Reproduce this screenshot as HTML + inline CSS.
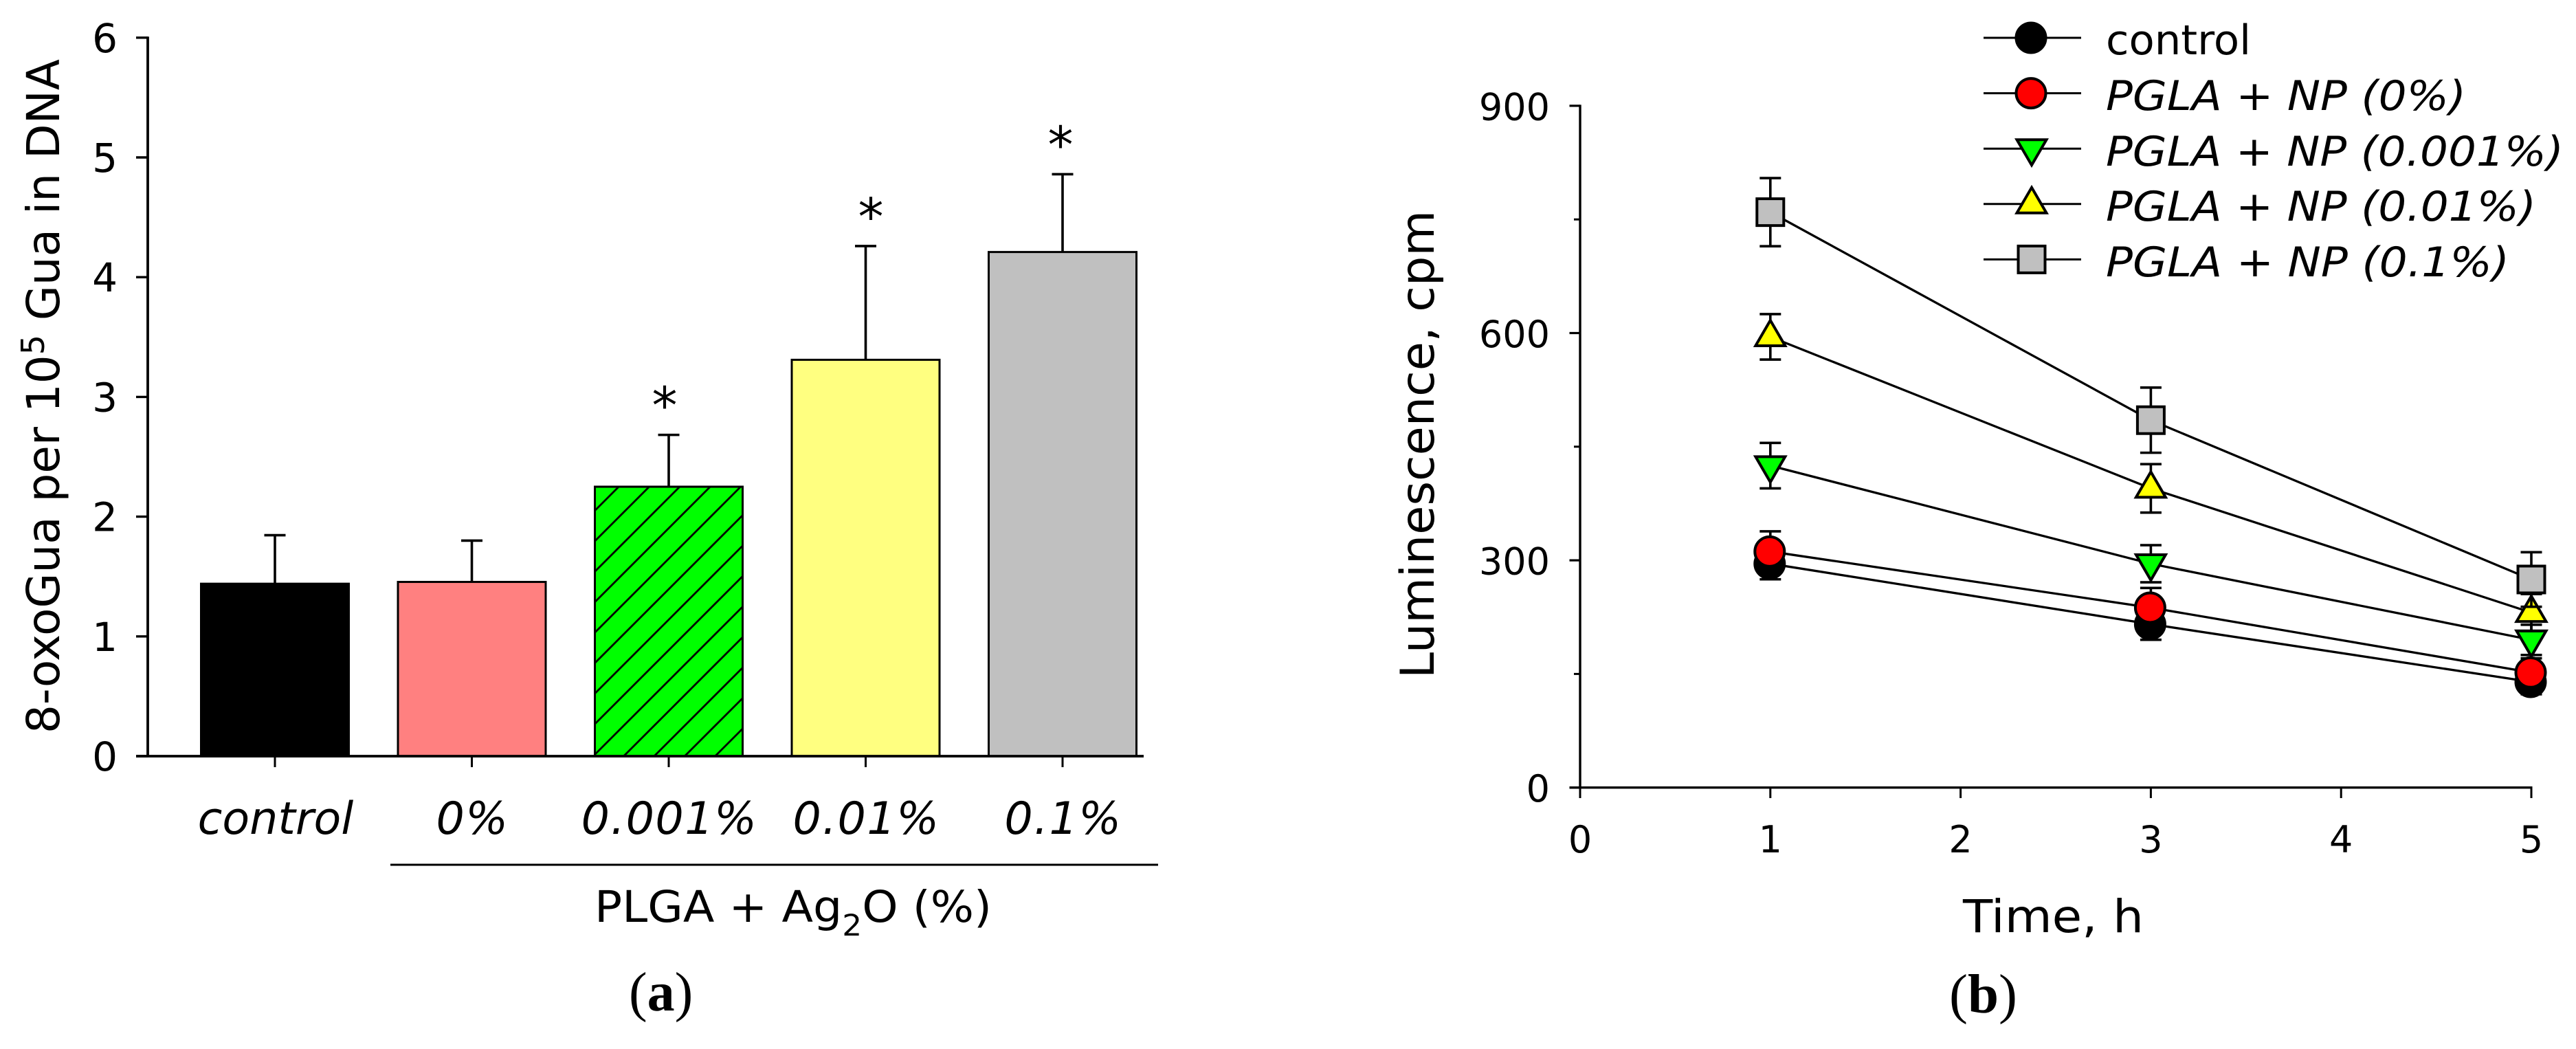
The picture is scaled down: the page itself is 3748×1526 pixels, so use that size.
<!DOCTYPE html>
<html lang="en">
<head>
<meta charset="utf-8">
<title>8-oxoGua bar chart and luminescence line chart</title>
<style>
html,body{margin:0;padding:0;background:#fff;}
svg{display:block;}
text{font-family:"DejaVu Sans","Liberation Sans",sans-serif;fill:#000;}
.serif{font-family:"Liberation Serif",serif;}
</style>
</head>
<body>
<svg id="fig" xmlns="http://www.w3.org/2000/svg" width="3748" height="1526" viewBox="0 0 3748 1526">
  <defs>
    <pattern id="hatch" patternUnits="userSpaceOnUse" x="11.7" y="0" width="44.35" height="44.35">
      <path d="M-3,3 L3,-3 M0,44.35 L44.35,0 M41.35,47.35 L47.35,41.35" stroke="#000" stroke-width="2.8" fill="none"/>
    </pattern>
  </defs>
  <rect x="0" y="0" width="3748" height="1526" fill="#fff"/>
  <g id="chart-a"></g>
  <g id="chart-b"></g>

  <text x="86" y="1067" transform="rotate(-90 86 1067)" font-size="66" textLength="981" lengthAdjust="spacingAndGlyphs">8-oxoGua per 10<tspan font-size="46" dy="-22">5</tspan><tspan dy="22"> Gua in DNA</tspan></text>
  <line x1="568" y1="1258" x2="1685" y2="1258" stroke="#000" stroke-width="3"/>
  <text x="865" y="1341" font-size="63" textLength="578" lengthAdjust="spacingAndGlyphs">PLGA + Ag<tspan font-size="43" dy="20">2</tspan><tspan dy="-20">O (%)</tspan></text>
  <text class="serif" x="915" y="1470" font-size="80">(<tspan font-weight="bold">a</tspan>)</text>

  <text x="2086" y="987" transform="rotate(-90 2086 987)" font-size="68" textLength="681" lengthAdjust="spacingAndGlyphs">Luminescence, cpm</text>
  <text x="2856" y="1356" font-size="66" textLength="263" lengthAdjust="spacingAndGlyphs">Time, h</text>
  <text class="serif" x="2836" y="1473" font-size="81">(<tspan font-weight="bold">b</tspan>)</text>

  <g>
    <text x="3064" y="79" font-size="60" textLength="211" lengthAdjust="spacingAndGlyphs">control</text>
    <text x="3064" y="160" font-size="60" font-style="italic" textLength="524" lengthAdjust="spacingAndGlyphs">PGLA + NP (0%)</text>
    <text x="3064" y="241" font-size="60" font-style="italic" textLength="666" lengthAdjust="spacingAndGlyphs">PGLA + NP (0.001%)</text>
    <text x="3064" y="321" font-size="60" font-style="italic" textLength="626" lengthAdjust="spacingAndGlyphs">PGLA + NP (0.01%)</text>
    <text x="3064" y="402" font-size="60" font-style="italic" textLength="587" lengthAdjust="spacingAndGlyphs">PGLA + NP (0.1%)</text>
  </g>
</svg>

<script>
// ---- Panel (a) data ----
const barCategories = ['control', '0%', '0.001%', '0.01%', '0.1%'];
const barValues = [1.44, 1.455, 2.25, 3.31, 4.21];
const barErrors = [0.405, 0.345, 0.433, 0.95, 0.65];
const barSignificant = [false, false, true, true, true];
const barHatched = [false, false, true, false, false];
const barFills = ['#000000', '#ff8080', '#00ff00', '#ffff80', '#c0c0c0'];
const barYTicks = [0, 1, 2, 3, 4, 5, 6];

// ---- Panel (b) data ----
const timePoints = [1, 3, 5];
const seriesNames = ['control', 'np-0', 'np-0-001', 'np-0-01', 'np-0-1'];
const controlValues = [295.5, 215.7, 139.5];
const np0Values = [311.6, 237.5, 151.9];
const np0001Values = [425, 295.5, 195];
const np001Values = [595, 395, 231];
const np01Values = [759.6, 485, 274.7];
const controlErrors = [20.6, 20.6, 16.3];
const np0Errors = [26.7, 26, 18.7];
const np0001Errors = [30, 24.5, 20];
const np001Errors = [30, 32, 24.5];
const np01Errors = [45, 43, 36];
const lineYTicks = [0, 300, 600, 900];
const lineYMinorTicks = [150, 450, 750];
const lineXTicks = [0, 1, 2, 3, 4, 5];

const seriesValues = [controlValues, np0Values, np0001Values, np001Values, np01Values];
const seriesErrors = [controlErrors, np0Errors, np0001Errors, np001Errors, np01Errors];
const seriesColors = ['#000000', '#ff0000', '#00ff00', '#ffff00', '#c0c0c0'];
const seriesShapes = ['circle', 'circle', 'down', 'up', 'square'];

const NS = 'http://www.w3.org/2000/svg';
function mk(tag, attrs, parent) {
  const n = document.createElementNS(NS, tag);
  for (const k in attrs) n.setAttribute(k, attrs[k]);
  parent.appendChild(n);
  return n;
}

// ---- Axis functions ----
const yA = v => 1100 - v * 174.2;
const xA = i => 400 + i * 286.5;
const xB = t => 2299 + t * 276.8;
const yB = v => 1145.7 - v * 1.102;

const chartA = document.getElementById('chart-a');
const chartB = document.getElementById('chart-b');

// Small hand-placement nudge of the asterisks relative to their bars
function starNudge(i) {
  if (i === 2) return -6;
  if (i === 3) return 7.5;
  return -3;
}

// ---- Panel (a) drawing ----
barCategories.forEach((cat, i) => {
  const cx = xA(i), top = yA(barValues[i]), errTop = yA(barValues[i] + barErrors[i]);
  const bar = mk('rect', {
    x: cx - 107.5, y: top, width: 215, height: 1100 - top,
    fill: barFills[i], stroke: '#000', 'stroke-width': 3
  }, chartA);
  
  
  if (barHatched[i]) {
    const hatch = mk('rect', {
      x: cx - 107.5, y: top, width: 215, height: 1100 - top,
      fill: 'url(#hatch)', stroke: '#000', 'stroke-width': 3
    }, chartA);
    
    
  }
  const err = mk('path', {
    d: `M${cx},${top} V${errTop} M${cx - 15.5},${errTop} H${cx + 15.5}`,
    stroke: '#000', 'stroke-width': 3.6, fill: 'none'
  }, chartA);
  
  
  const tick = mk('line', { x1: cx, y1: 1100, x2: cx, y2: 1116, stroke: '#000', 'stroke-width': 3 }, chartA);
  
  
  const lab = mk('text', { x: cx + 1, y: 1213, 'font-size': 65, 'font-style': 'italic', 'text-anchor': 'middle' }, chartA);
  if (cat !== 'control') lab.setAttribute('letter-spacing', '1.5');
  lab.textContent = cat;
  
  
  if (barSignificant[i]) {
    const star = mk('text', { x: cx + starNudge(i), y: errTop - 17, 'font-size': 74, 'text-anchor': 'middle' }, chartA);
    star.textContent = '*';
    
    
  }
});

const axisAY = mk('line', { x1: 215, y1: yA(6) - 1.5, x2: 215, y2: yA(0), stroke: '#000', 'stroke-width': 3.8 }, chartA);


const axisAX = mk('line', { x1: 198, y1: yA(0), x2: 1664, y2: yA(0), stroke: '#000', 'stroke-width': 3.8 }, chartA);


barYTicks.forEach(v => {
  const t = mk('line', { x1: 198, y1: yA(v), x2: 215, y2: yA(v), stroke: '#000', 'stroke-width': 3.4 }, chartA);
  
  
  const l = mk('text', { x: 171, y: yA(v) + 21, 'font-size': 58, 'text-anchor': 'end' }, chartA);
  l.textContent = v;
  
  
});

// ---- Marker ----
function marker(shape, x, y, fill, parent) {
  const style = { fill: fill, stroke: '#000', 'stroke-width': 4, 'stroke-linejoin': 'miter' };
  if (shape === 'circle') return mk('circle', Object.assign({ cx: x - 1, cy: y, r: 21.5 }, style), parent);
  if (shape === 'square') return mk('rect', Object.assign({ x: x - 19.5, y: y - 19.5, width: 39, height: 39 }, style), parent);
  if (shape === 'up') return mk('path', Object.assign({ d: `M${x},${y - 24} L${x + 21.5},${y + 13} H${x - 21.5} Z` }, style), parent);
  return mk('path', Object.assign({ d: `M${x - 21.5},${y - 13} H${x + 21.5} L${x},${y + 24} Z` }, style), parent);
}

// ---- Panel (b) axes ----
const axisBY = mk('line', { x1: xB(0), y1: yB(900) - 1.5, x2: xB(0), y2: yB(0), stroke: '#000', 'stroke-width': 3.4 }, chartB);


const axisBX = mk('line', { x1: 2283.5, y1: yB(0), x2: xB(5) + 1.5, y2: yB(0), stroke: '#000', 'stroke-width': 3.4 }, chartB);


lineYTicks.forEach(v => {
  const t = mk('line', { x1: 2283.5, y1: yB(v), x2: xB(0), y2: yB(v), stroke: '#000', 'stroke-width': 3.2 }, chartB);
  
  
  const l = mk('text', { x: 2255, y: yB(v) + 20.5, 'font-size': 54, 'text-anchor': 'end' }, chartB);
  l.textContent = v;
  
  
});
lineYMinorTicks.forEach(v => {
  const t = mk('line', { x1: 2290, y1: yB(v), x2: xB(0), y2: yB(v), stroke: '#000', 'stroke-width': 3 }, chartB);
  
  
});
lineXTicks.forEach(v => {
  const t = mk('line', { x1: xB(v), y1: yB(0), x2: xB(v), y2: 1161, stroke: '#000', 'stroke-width': 3 }, chartB);
  
  
  const l = mk('text', { x: xB(v), y: 1240, 'font-size': 54, 'text-anchor': 'middle' }, chartB);
  l.textContent = v;
  
  
});

// ---- Panel (b) series ----
seriesNames.forEach((name, s) => {
  const g = mk('g', {}, chartB);
  
  
  const vals = seriesValues[s], errs = seriesErrors[s];
  const line = mk('polyline', {
    points: timePoints.map((t, i) => xB(t) + ',' + yB(vals[i])).join(' '),
    fill: 'none', stroke: '#000', 'stroke-width': 3.3
  }, g);
  
  
  timePoints.forEach((t, i) => {
    const x = xB(t), hi = yB(vals[i] + errs[i]), lo = yB(vals[i] - errs[i]);
    const err = mk('path', {
      d: `M${x},${hi} V${lo} M${x - 15.5},${hi} H${x + 15.5} M${x - 15.5},${lo} H${x + 15.5}`,
      stroke: '#000', 'stroke-width': 3.6, fill: 'none'
    }, g);
    
    
    const m = marker(seriesShapes[s], x, yB(vals[i]), seriesColors[s], g);
    
    
  });
  // legend sample
  const ly = 55 + s * 80.6;
  const ll = mk('line', { x1: 2886, y1: ly, x2: 3028, y2: ly, stroke: '#000', 'stroke-width': 3 }, g);
  
  
  const lm = marker(seriesShapes[s], 2956, ly, seriesColors[s], g);
  
  
});
</script>
</body>
</html>
